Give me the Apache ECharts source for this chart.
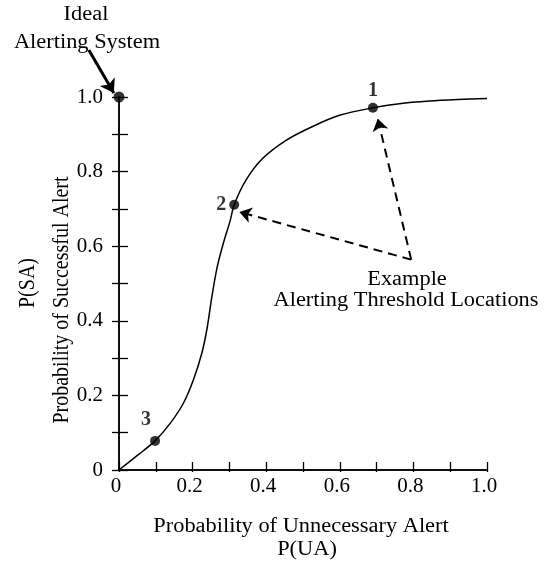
<!DOCTYPE html>
<html><head><meta charset="utf-8">
<script src="https://cdn.jsdelivr.net/npm/echarts@6/dist/echarts.min.js"></script>
<style>html,body{margin:0;padding:0;background:#fff}#c{width:544px;height:571px}</style>
</head><body><div id="c"></div>
<script>
// Curve (ROC-like) data: P(UA) vs P(SA)
const curveX = [0, 0.05, 0.098, 0.139, 0.175, 0.202, 0.225, 0.239, 0.252, 0.267, 0.285, 0.302, 0.313, 0.345, 0.39, 0.454, 0.526, 0.599, 0.69, 0.762, 0.844, 0.92, 1.0];
const curveY = [0, 0.039, 0.078, 0.125, 0.179, 0.241, 0.313, 0.378, 0.462, 0.545, 0.613, 0.668, 0.711, 0.777, 0.835, 0.884, 0.921, 0.951, 0.971, 0.982, 0.989, 0.993, 0.996];
// Example threshold locations
const thrLabels = ['1', '2', '3'];
const thrX = [0.69, 0.313, 0.098];
const thrY = [0.971, 0.711, 0.078];
// Ideal alerting system point
const idealPt = [0, 1.0];
// Annotation arrows (data coords)
const arrowFrom = [0.794, 0.564];
const arrowTo1 = [0.703, 0.942];
const arrowTo2 = [0.327, 0.692];
const idealArrowFrom = [-0.082, 1.126];
const idealArrowTo = [-0.014, 1.011];
// Tick labels
const tickLabels = {0: '0', 0.2: '0.2', 0.4: '0.4', 0.6: '0.6', 0.8: '0.8', 1: '1.0'};

const FONT = '"Liberation Serif", "DejaVu Serif", serif';
function fmt(v) {
  const k = Math.round(v * 10) / 10;
  return tickLabels[k] !== undefined ? tickLabels[k] : '';
}
const chart = echarts.init(document.getElementById('c'));
const axisCommon = {
  type: 'value', min: 0, max: 1, interval: 0.1,
  splitLine: {show: false},
  axisLine: {show: true, onZero: false, lineStyle: {color: '#000', width: 1.5}},
};
const labelPositions = ['top', 'left', 'top'];
function txt(x, y, s, rot) {
  return {type: 'text', x: x, y: y, rotation: rot || 0, scaleX: rot ? 1 : 1.12, scaleY: rot ? 1.12 : 1,
    style: {text: s, font: '20px ' + FONT, fill: '#000', align: 'center', verticalAlign: 'middle'}};
}
chart.setOption({
  animation: false,
  textStyle: {fontFamily: FONT},
  grid: {left: 119, top: 97, width: 368, height: 373},
  xAxis: [
    Object.assign({}, axisCommon, {
      position: 'bottom',
      axisTick: {show: true, inside: true, length: 8, lineStyle: {color: '#000', width: 1.3}},
      axisLabel: {formatter: fmt, color: '#000', fontSize: 21, fontFamily: FONT, margin: 6, padding: [0, 6, 0, 0]}
    }),
    Object.assign({}, axisCommon, {
      position: 'bottom',
      axisTick: {show: true, inside: false, length: 2, lineStyle: {color: '#000', width: 1.3}},
      axisLabel: {show: false}
    })
  ],
  yAxis: [
    Object.assign({}, axisCommon, {
      position: 'left',
      axisTick: {show: true, inside: true, length: 9, lineStyle: {color: '#000', width: 1.3}},
      axisLabel: {formatter: fmt, color: '#000', fontSize: 21, fontFamily: FONT, margin: 16}
    }),
    Object.assign({}, axisCommon, {
      position: 'left',
      axisTick: {show: true, inside: false, length: 7, lineStyle: {color: '#000', width: 1.3}},
      axisLabel: {show: false}
    })
  ],
  series: [
    {
      type: 'line', smooth: 0.3, symbol: 'none',
      data: curveX.map((x, i) => [x, curveY[i]]),
      lineStyle: {color: '#000', width: 1.5}
    },
    {
      type: 'scatter', symbolSize: 10, itemStyle: {color: '#000'},
      data: thrX.map((x, i) => ({value: [x, thrY[i]], name: thrLabels[i],
        label: {show: true, position: labelPositions[i], formatter: thrLabels[i],
          fontWeight: 'bold', fontSize: 20, color: '#000', fontFamily: FONT,
          distance: i === 1 ? 3 : (i === 2 ? 6 : 2), offset: i === 2 ? [-9, 0] : [0, 0]}}))
    },
    {
      type: 'scatter', symbolSize: 11, itemStyle: {color: '#000'}, clip: false,
      data: [idealPt]
    },
    {
      type: 'lines', coordinateSystem: 'cartesian2d', clip: false,
      symbol: ['none', 'arrow'], symbolSize: 12,
      lineStyle: {color: '#000', width: 2, type: [9, 6], opacity: 1},
      data: [{coords: [arrowFrom, arrowTo1]}, {coords: [arrowFrom, arrowTo2]}]
    },
    {
      type: 'lines', coordinateSystem: 'cartesian2d', clip: false,
      symbol: ['none', 'arrow'], symbolSize: 13,
      lineStyle: {color: '#000', width: 3, opacity: 1},
      data: [{coords: [idealArrowFrom, idealArrowTo]}]
    }
  ],
  graphic: [
    txt(86, 15, 'Ideal'),
    txt(87, 43, 'Alerting System'),
    txt(407, 280, 'Example'),
    txt(406, 301, 'Alerting Threshold Locations'),
    txt(301, 527, 'Probability of Unnecessary Alert'),
    txt(307, 550, 'P(UA)'),
    txt(62, 300, 'Probability of Successful Alert', Math.PI / 2),
    txt(28, 283, 'P(SA)', Math.PI / 2)
  ]
});
</script></body></html>
